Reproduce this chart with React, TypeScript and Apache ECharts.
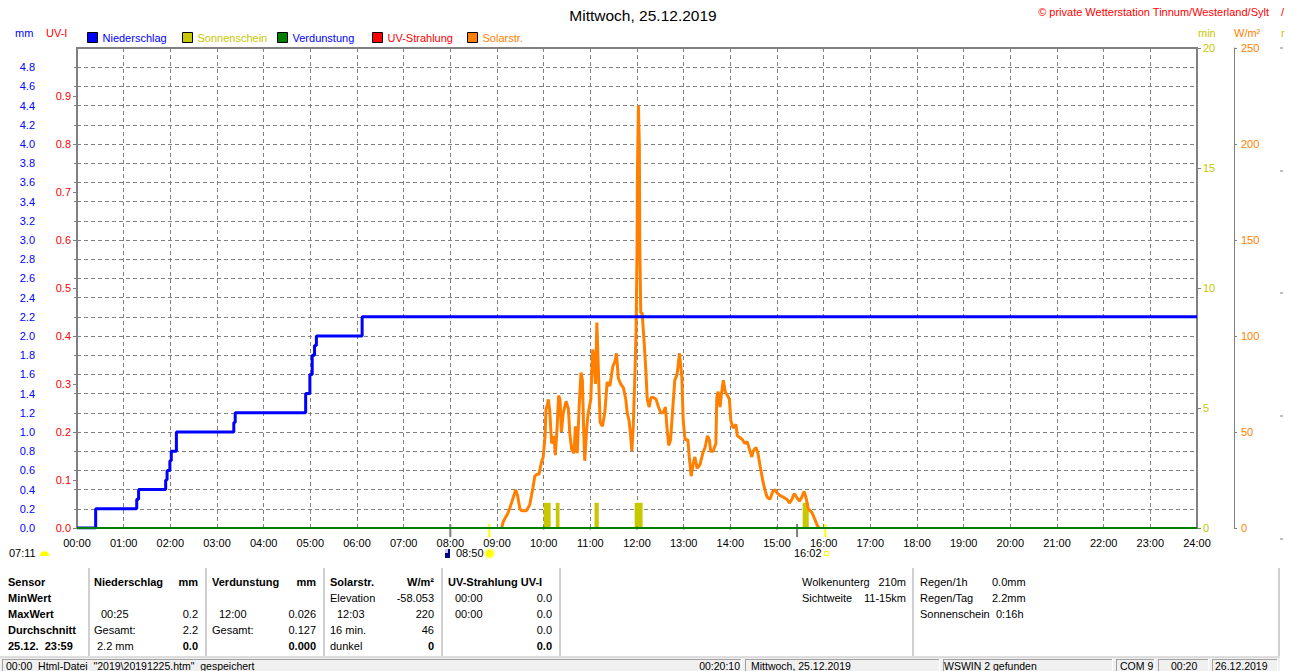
import { useEffect, useRef } from 'react';
import * as echarts from 'echarts';

const FONT = "'Liberation Sans', Arial, sans-serif";

// Niederschlag (cumulative, mm) – step line
const rainTimes = [0, 0.40, 1.28, 1.32, 1.90, 1.93, 1.99, 2.02, 2.13, 3.36, 3.39, 4.90, 4.99, 5.04, 5.09, 5.13, 6.11, 24];
const rainValues = [0, 0.2, 0.3, 0.4, 0.5, 0.6, 0.7, 0.8, 1.0, 1.1, 1.2, 1.4, 1.6, 1.8, 1.9, 2.0, 2.2, 2.2];

// Solarstrahlung (W/m²)
const solarTimes = [9.10,9.13,9.17,9.22,9.27,9.31,9.35,9.40,9.44,9.49,9.53,9.63,9.70,9.74,9.77,9.81,9.86,9.90,9.95,9.99,
  10.03,10.05,10.08,10.10,10.13,10.17,10.22,10.25,10.29,10.32,10.35,10.38,10.42,10.48,10.53,10.56,10.60,10.65,10.68,10.72,
  10.76,10.80,10.83,10.86,10.88,10.92,10.95,11.01,11.05,11.08,11.11,11.14,11.17,11.21,11.26,11.31,11.36,11.42,11.48,11.53,
  11.56,11.60,11.65,11.71,11.76,11.79,11.83,11.86,11.89,11.92,11.96,11.98,12.00,12.01,12.03,12.05,12.06,12.08,12.11,12.15,
  12.19,12.22,12.26,12.30,12.35,12.41,12.46,12.51,12.56,12.61,12.64,12.68,12.72,12.76,12.81,12.86,12.91,12.96,12.99,13.03,
  13.09,13.12,13.16,13.21,13.24,13.29,13.35,13.41,13.46,13.51,13.55,13.58,13.63,13.69,13.71,13.74,13.78,13.81,13.85,13.89,
  13.94,13.98,14.01,14.06,14.12,14.15,14.21,14.26,14.31,14.36,14.41,14.46,14.49,14.55,14.59,14.64,14.70,14.74,14.79,14.85,
  14.91,14.96,15.01,15.06,15.14,15.21,15.27,15.32,15.37,15.42,15.48,15.53,15.58,15.62,15.67,15.75,15.82,15.87,15.90];
const solarValues = [0,3,5,7,10,13,16,20,17,10,9,9,12,17,21,27,28,28,34,37,
  48,62,64,67,61,44,48,38,53,69,67,50,60,66,62,49,41,39,53,39,
  63,81,77,49,35,51,59,67,93,88,75,107,84,55,53,60,76,74,84,87,
  91,78,75,73,67,60,56,49,40,53,84,103,142,186,220,200,148,112,112,98,
  82,67,63,68,68,67,63,60,60,63,53,43,46,60,77,80,91,79,56,46,
  46,37,27,34,37,31,33,39,42,48,46,40,40,44,68,71,63,70,77,71,
  69,67,56,52,54,48,47,46,44,45,41,37,40,42,39,32,24,20,16,15,
  19,20,18,17,16,15,13,15,18,16,14,16,19,16,10,8,4,1,0];

// Sonnenschein (min) intervals
const sunStart = [10.00, 10.26, 11.09, 11.95, 15.55];
const sunEnd = [10.15, 10.34, 11.18, 12.12, 15.68];
const sunMinutes = [1.05, 1.05, 1.05, 1.05, 1.05];

// Verdunstung (mm)
const evapTimes = [0, 10, 11, 12, 13, 14, 15, 24];
const evapValues = [0, 0, 0, 0, 0, 0, 0, 0];

// UV-Strahlung (UV-I)
const uvTimes = [0, 24];
const uvValues = [0, 0];

// Markers below the axis
const twilightTimes = [8.0, 15.43];
const sunEventTimes = [8.833, 16.033];

const zip = (a: number[], b: number[]) => a.map((v, i) => [v, b[i]]);

const C_BLUE = '#0000ff';
const C_YEL = '#c8c800';
const C_GREEN = '#008000';
const C_RED = '#ff0000';
const C_ORANGE = '#ff8000';
const C_GREY = '#808080';

const legendItems = [
  { name: 'Niederschlag', color: C_BLUE, text: C_BLUE, left: 87 },
  { name: 'Sonnenschein', color: C_YEL, text: C_YEL, left: 182 },
  { name: 'Verdunstung', color: C_GREEN, text: C_BLUE, left: 277 },
  { name: 'UV-Strahlung', color: C_RED, text: C_RED, left: 372 },
  { name: 'Solarstr.', color: C_ORANGE, text: C_ORANGE, left: 467 },
];

function T(text: string, x: number, y: number, o: any = {}) {
  return {
    type: 'text', x, y, silent: true, z: 100,
    style: {
      text, fill: o.fill || '#000', fontSize: o.size || 11, fontFamily: FONT,
      fontWeight: o.bold ? 'bold' : 'normal', align: o.align || 'left', verticalAlign: o.va || 'middle',
    },
  };
}
function L(x1: number, y1: number, x2: number, y2: number, stroke: string, w = 1) {
  return { type: 'line', silent: true, z: 100, shape: { x1, y1, x2, y2 }, style: { stroke, lineWidth: w } };
}
function R(x: number, y: number, w: number, h: number, fill: string, stroke?: string) {
  return { type: 'rect', silent: true, z: 99, shape: { x, y, width: w, height: h }, style: { fill, stroke: stroke || 'none', lineWidth: 1 } };
}

const rows = [582, 598, 614, 630, 646];

function buildGraphics() {
  const g: any[] = [];
  g.push(T('Mittwoch, 25.12.2019', 643, 15, { size: 15.5, align: 'center' }));
  g.push(T('© private Wetterstation Tinnum/Westerland/Sylt', 1269, 12, { fill: C_RED, align: 'right' }));
  g.push(T('/', 1281, 12, { fill: C_RED }));
  g.push(T('mm', 15, 33, { fill: C_BLUE }));
  g.push(T('UV-I', 46, 33, { fill: C_RED }));
  g.push(T('min', 1198, 33, { fill: C_YEL }));
  g.push(T('W/m²', 1234, 33, { fill: C_ORANGE }));
  g.push(T('r', 1281, 33, { fill: C_YEL }));
  [48, 171, 293, 416, 539].forEach((y) => g.push(L(1280, y, 1283, y, C_GREY)));

  // sub row under x axis
  g.push(T('07:11', 9, 553));
  g.push({ type: 'sector', silent: true, z: 100, shape: { cx: 44.5, cy: 556, r: 4.8, r0: 0, startAngle: Math.PI, endAngle: 2 * Math.PI, clockwise: true }, style: { fill: '#ffff00' } });
  g.push(R(445, 549, 5, 9, '#000080'));
  g.push(R(445, 549, 3, 4, '#c8c8ff'));
  g.push(T('08:50', 456, 553));
  g.push({ type: 'circle', silent: true, z: 100, shape: { cx: 489.5, cy: 553.5, r: 5.5 }, style: { fill: '#ffffa0' } });
  g.push({ type: 'circle', silent: true, z: 101, shape: { cx: 489.5, cy: 553.5, r: 3.8 }, style: { fill: '#ffff00' } });
  g.push(T('16:02', 794, 553));
  g.push({ type: 'rect', silent: true, z: 100, shape: { x: 824.5, y: 551.5, width: 4, height: 4 }, style: { fill: 'none', stroke: '#ffff00', lineWidth: 1 } });

  // table separators
  [89, 206, 324, 442, 560, 913, 1279].forEach((x) => {
    g.push(L(x, 568, x, 656, '#a0a0a0'));
  });

  // Sensor column
  ['Sensor', 'MinWert', 'MaxWert', 'Durchschnitt', '25.12.  23:59'].forEach((t, i) => g.push(T(t, 8, rows[i], { bold: true })));
  // Niederschlag
  g.push(T('Niederschlag', 94, rows[0], { bold: true }));
  g.push(T('mm', 198, rows[0], { bold: true, align: 'right' }));
  g.push(T('00:25', 101, rows[2]));
  g.push(T('0.2', 198, rows[2], { align: 'right' }));
  g.push(T('Gesamt:', 94, rows[3]));
  g.push(T('2.2', 198, rows[3], { align: 'right' }));
  g.push(T('2.2 mm', 97, rows[4]));
  g.push(T('0.0', 198, rows[4], { align: 'right', bold: true }));
  // Verdunstung
  g.push(T('Verdunstung', 212, rows[0], { bold: true }));
  g.push(T('mm', 316, rows[0], { bold: true, align: 'right' }));
  g.push(T('12:00', 219, rows[2]));
  g.push(T('0.026', 316, rows[2], { align: 'right' }));
  g.push(T('Gesamt:', 212, rows[3]));
  g.push(T('0.127', 316, rows[3], { align: 'right' }));
  g.push(T('0.000', 316, rows[4], { align: 'right', bold: true }));
  // Solar
  g.push(T('Solarstr.', 330, rows[0], { bold: true }));
  g.push(T('W/m²', 434, rows[0], { bold: true, align: 'right' }));
  g.push(T('Elevation', 330, rows[1]));
  g.push(T('-58.053', 434, rows[1], { align: 'right' }));
  g.push(T('12:03', 337, rows[2]));
  g.push(T('220', 434, rows[2], { align: 'right' }));
  g.push(T('16 min.', 330, rows[3]));
  g.push(T('46', 434, rows[3], { align: 'right' }));
  g.push(T('dunkel', 330, rows[4]));
  g.push(T('0', 434, rows[4], { align: 'right', bold: true }));
  // UV
  g.push(T('UV-Strahlung UV-I', 448, rows[0], { bold: true }));
  g.push(T('00:00', 455, rows[1]));
  g.push(T('0.0', 552, rows[1], { align: 'right' }));
  g.push(T('00:00', 455, rows[2]));
  g.push(T('0.0', 552, rows[2], { align: 'right' }));
  g.push(T('0.0', 552, rows[3], { align: 'right' }));
  g.push(T('0.0', 552, rows[4], { align: 'right', bold: true }));
  // extra info
  g.push(T('Wolkenunterg', 802, rows[0]));
  g.push(T('210m', 906, rows[0], { align: 'right' }));
  g.push(T('Sichtweite', 802, rows[1]));
  g.push(T('11-15km', 906, rows[1], { align: 'right' }));
  g.push(T('Regen/1h', 920, rows[0]));
  g.push(T('0.0mm', 992, rows[0]));
  g.push(T('Regen/Tag', 920, rows[1]));
  g.push(T('2.2mm', 992, rows[1]));
  g.push(T('Sonnenschein', 920, rows[2]));
  g.push(T('0:16h', 996, rows[2]));

  // status bar
  g.push(R(0, 657, 1280, 14, '#f0f0f0'));
  g.push(L(0, 657, 1280, 657, '#c0c0c0'));
  [[2, 742], [745, 940], [943, 1113], [1116, 1155], [1158, 1209], [1212, 1278]].forEach(([a, b]) => {
    g.push(L(a, 659.5, b, 659.5, '#a0a0a0'));
    g.push(L(a + 0.5, 659, a + 0.5, 671, '#a0a0a0'));
    g.push(L(b - 0.5, 659, b - 0.5, 671, '#ffffff'));
  });
  const sb = { va: 'bottom', size: 10.5 };
  const SY = 671;
  g.push(T('00:00  Html-Datei  "2019\\20191225.htm"  gespeichert', 6, SY, sb));
  g.push(T('00:20:10', 740, SY, { ...sb, align: 'right' }));
  g.push(T('Mittwoch, 25.12.2019', 751, SY, sb));
  g.push(T('WSWIN 2 gefunden', 944, SY, sb));
  g.push(T('COM 9', 1120, SY, sb));
  g.push(T('00:20', 1171, SY, sb));
  g.push(T('26.12.2019', 1215, SY, sb));
  return g;
}

function markRender(color: string) {
  return (params: any, api: any) => {
    const p = api.coord([api.value(0), 0]);
    return { type: 'rect', shape: { x: p[0] - 1, y: p[1] - 4, width: 2, height: 13 }, style: { fill: color } };
  };
}

export default function App() {
  const ref = useRef<HTMLDivElement>(null);
  useEffect(() => {
    if (!ref.current) return;
    const chart = echarts.init(ref.current, null, { renderer: 'svg' });
    const dashed = { show: true, lineStyle: { color: C_GREY, type: [4, 3], width: 1 } };
    const option: any = {
      animation: false,
      backgroundColor: '#ffffff',
      textStyle: { fontFamily: FONT },
      grid: {
        left: 77, right: 113, top: 48, bottom: 143,
        show: true, borderColor: C_GREY, borderWidth: 2, backgroundColor: 'transparent',
        containLabel: false, outerBoundsMode: 'none',
      },
      legend: legendItems.map((it) => ({
        data: [{ name: it.name, icon: 'rect', itemStyle: { color: it.color, borderColor: '#000', borderWidth: 1 }, textStyle: { color: it.text } }],
        left: it.left, top: 32, itemWidth: 10, itemHeight: 10, padding: 0, itemGap: 0,
        selectedMode: false,
        textStyle: { fontSize: 11, fontFamily: FONT, color: it.text },
      })),
      xAxis: {
        type: 'value', min: 0, max: 24, interval: 1,
        axisLine: { show: false },
        axisTick: { show: false },
        axisLabel: {
          color: '#000', fontSize: 11, fontFamily: FONT, margin: 9,
          formatter: (v: number) => (v < 10 ? '0' : '') + v + ':00',
        },
        splitLine: dashed,
      },
      yAxis: [
        {
          type: 'value', position: 'left', offset: 37, min: 0, max: 5, interval: 0.2,
          axisLine: { show: true, lineStyle: { color: C_GREY, width: 1 } },
          axisTick: { show: true, length: 3, lineStyle: { color: C_GREY } },
          axisLabel: { color: C_BLUE, fontSize: 11, fontFamily: FONT, margin: 5, showMaxLabel: false, formatter: (v: number) => v.toFixed(1) },
          splitLine: dashed,
        },
        {
          type: 'value', position: 'left', offset: 0, min: 0, max: 1, interval: 0.1,
          axisLine: { show: false },
          axisTick: { show: true, length: 4, lineStyle: { color: C_GREY } },
          axisLabel: { color: C_RED, fontSize: 11, fontFamily: FONT, margin: 6, showMaxLabel: false, formatter: (v: number) => v.toFixed(1) },
          splitLine: { show: false },
        },
        {
          type: 'value', position: 'right', offset: 0, min: 0, max: 20, interval: 5,
          axisLine: { show: false },
          axisTick: { show: true, length: 4, lineStyle: { color: C_GREY } },
          axisLabel: { color: C_YEL, fontSize: 11, fontFamily: FONT, margin: 6 },
          splitLine: { show: false },
        },
        {
          type: 'value', position: 'right', offset: 37, min: 0, max: 250, interval: 50,
          axisLine: { show: true, lineStyle: { color: C_GREY, width: 1 } },
          axisTick: { show: true, length: 3, lineStyle: { color: C_GREY } },
          axisLabel: { color: C_ORANGE, fontSize: 11, fontFamily: FONT, margin: 7 },
          splitLine: { show: false },
        },
      ],
      series: [
        {
          name: 'Sonnenschein', type: 'custom', yAxisIndex: 2, clip: false,
          itemStyle: { color: C_YEL },
          encode: { x: [0, 1], y: 2 },
          data: sunStart.map((s, i) => [s, sunEnd[i], sunMinutes[i]]),
          renderItem: (params: any, api: any) => {
            const s = api.coord([api.value(0), 0]);
            const e = api.coord([api.value(1), api.value(2)]);
            return { type: 'rect', shape: { x: s[0], y: e[1], width: e[0] - s[0], height: s[1] - e[1] }, style: { fill: C_YEL } };
          },
        },
        {
          name: 'Solarstr.', type: 'line', yAxisIndex: 3, showSymbol: false,
          itemStyle: { color: C_ORANGE }, lineStyle: { color: C_ORANGE, width: 3 },
          data: zip(solarTimes, solarValues),
        },
        {
          name: 'UV-Strahlung', type: 'line', yAxisIndex: 1, showSymbol: false,
          itemStyle: { color: C_RED }, lineStyle: { color: C_RED, width: 2 },
          data: zip(uvTimes, uvValues),
        },
        {
          name: 'Niederschlag', type: 'line', yAxisIndex: 0, step: 'end', showSymbol: false,
          itemStyle: { color: C_BLUE }, lineStyle: { color: C_BLUE, width: 3 },
          data: zip(rainTimes, rainValues),
        },
        {
          name: 'Verdunstung', type: 'line', yAxisIndex: 0, showSymbol: true, symbol: 'circle',
          symbolSize: (v: any) => (v[0] > 0 && v[0] < 24 ? 3 : 0),
          itemStyle: { color: C_GREEN }, lineStyle: { color: C_GREEN, width: 2 },
          data: zip(evapTimes, evapValues),
        },
        {
          name: 'twilight', type: 'custom', yAxisIndex: 0, clip: false, silent: true,
          encode: { x: 0, y: 1 },
          data: twilightTimes.map((t) => [t, 0]),
          renderItem: markRender(C_GREY),
        },
        {
          name: 'sunEvents', type: 'custom', yAxisIndex: 0, clip: false, silent: true,
          encode: { x: 0, y: 1 },
          data: sunEventTimes.map((t) => [t, 0]),
          renderItem: markRender('#ffff00'),
        },
      ],
      graphic: buildGraphics(),
    };
    chart.setOption(option);
    return () => chart.dispose();
  }, []);
  return <div ref={ref} style={{ position: 'absolute', left: 0, top: 0, width: 1310, height: 671 }} />;
}
